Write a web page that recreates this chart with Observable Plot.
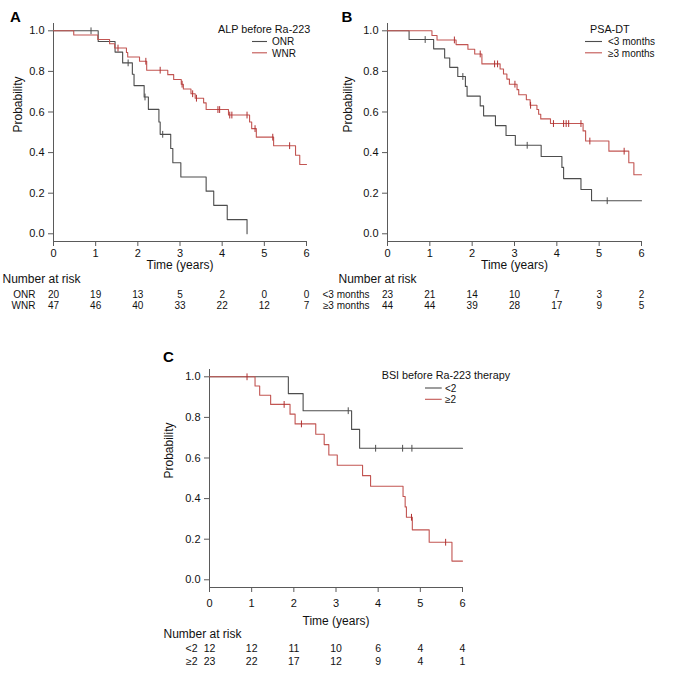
<!DOCTYPE html>
<html><head><meta charset="utf-8">
<script src="https://cdn.jsdelivr.net/npm/d3@7"></script>
<script src="https://cdn.jsdelivr.net/npm/@observablehq/plot@0.6"></script>
<style>
html,body{margin:0;padding:0;background:#fff;}
#wrap{position:relative;width:677px;height:674px;overflow:hidden;font-family:"Liberation Sans",Arial,sans-serif;}
</style></head><body><div id="wrap"></div>
<script>
// ---------- shared ticks ----------
const timeTicks = [0, 1, 2, 3, 4, 5, 6];
const probTicks = [0, 0.2, 0.4, 0.6, 0.8, 1.0];

// ---------- Panel A: ALP before Ra-223 ----------
const aTitle = "ALP before Ra-223";
const aGroups = ["ONR", "WNR"];
const aOnrTime = [0, 1.06, 1.46, 1.64, 1.87, 1.91, 2.15, 2.25, 2.50, 2.53, 2.78, 2.83, 3.02, 3.62, 3.80, 4.12, 4.59];
const aOnrSurv = [1.0, 0.947, 0.895, 0.842, 0.786, 0.730, 0.674, 0.613, 0.551, 0.490, 0.420, 0.350, 0.280, 0.210, 0.140, 0.070, 0.0];
const aOnrCensor = [0.89, 1.77, 2.17, 2.59];
const aOnrEnd = 4.59;
const aWnrTime = [0, 0.48, 1.05, 1.33, 1.45, 1.73, 1.76, 2.04, 2.21, 2.71, 2.85, 3.03, 3.08, 3.26, 3.36, 3.56, 3.62, 4.15, 4.65, 4.70, 4.81, 5.22, 5.74, 5.84];
const aWnrSurv = [1.0, 0.979, 0.957, 0.936, 0.915, 0.893, 0.871, 0.850, 0.806, 0.784, 0.760, 0.737, 0.713, 0.690, 0.668, 0.645, 0.612, 0.585, 0.551, 0.518, 0.476, 0.434, 0.387, 0.341];
const aWnrCensor = [1.53, 2.19, 2.53, 3.05, 3.30, 3.39, 3.90, 3.94, 4.18, 4.23, 4.59, 4.78, 5.20, 5.60];
const aWnrEnd = 6.0;
const aRiskOnr = [20, 19, 13, 5, 2, 0, 0];
const aRiskWnr = [47, 46, 40, 33, 22, 12, 7];

// ---------- Panel B: PSA-DT ----------
const bTitle = "PSA-DT";
const bGroups = ["<3 months", "\u22653 months"];
const bLowTime = [0, 0.51, 1.09, 1.35, 1.47, 1.66, 1.84, 1.88, 2.19, 2.27, 2.55, 2.80, 3.02, 3.63, 4.12, 4.16, 4.57, 4.82];
const bLowSurv = [1.0, 0.957, 0.911, 0.866, 0.820, 0.775, 0.726, 0.678, 0.630, 0.581, 0.533, 0.484, 0.436, 0.381, 0.327, 0.272, 0.218, 0.163];
const bLowCensor = [0.89, 1.78, 3.30, 5.19];
const bLowEnd = 6.0;
const bHighTime = [0, 1.05, 1.17, 1.62, 1.90, 2.06, 2.23, 2.66, 2.74, 2.82, 2.88, 3.06, 3.10, 3.28, 3.37, 3.53, 3.57, 3.62, 3.85, 4.62, 4.68, 5.23, 5.70, 5.82];
const bHighSurv = [1.0, 0.977, 0.955, 0.932, 0.909, 0.886, 0.837, 0.812, 0.787, 0.762, 0.737, 0.710, 0.685, 0.660, 0.633, 0.612, 0.589, 0.566, 0.543, 0.507, 0.457, 0.407, 0.350, 0.291];
const bHighCensor = [1.58, 2.19, 2.53, 2.60, 3.01, 3.38, 3.92, 4.16, 4.22, 4.28, 4.57, 4.78, 5.59];
const bHighEnd = 6.0;
const bRiskLow = [23, 21, 14, 10, 7, 3, 2];
const bRiskHigh = [44, 44, 39, 28, 17, 9, 5];

// ---------- Panel C: BSI before Ra-223 therapy ----------
const cTitle = "BSI before Ra-223 therapy";
const cGroups = ["<2", "\u22652"];
const cLowTime = [0, 1.87, 2.22, 3.37, 3.56];
const cLowSurv = [1.0, 0.917, 0.833, 0.741, 0.648];
const cLowCensor = [3.29, 3.94, 4.58, 4.80];
const cLowEnd = 6.0;
const cHighTime = [0, 1.08, 1.19, 1.45, 1.91, 2.03, 2.52, 2.72, 2.83, 3.03, 3.63, 3.82, 4.59, 4.64, 4.67, 4.81, 5.21, 5.75];
const cHighSurv = [1.0, 0.955, 0.909, 0.864, 0.816, 0.768, 0.717, 0.666, 0.615, 0.564, 0.513, 0.461, 0.410, 0.359, 0.308, 0.246, 0.185, 0.092];
const cHighCensor = [0.89, 1.77, 2.18, 4.79, 5.60];
const cHighEnd = 6.0;
const cRiskLow = [12, 12, 11, 10, 6, 4, 4];
const cRiskHigh = [23, 22, 17, 12, 9, 4, 1];

// ---------- styling ----------
const FONT = '"Liberation Sans", Arial, Helvetica, sans-serif';
const GREY = "#4d4d4d";
const RED = "#c25552";
const RED_TICK = "#b03030";
const AXIS = "#5a5a5a";
const yDomain = [-0.038, 1.036];

const vbar = {draw(ctx, size) { const h = Math.sqrt(size / Math.PI); ctx.moveTo(0, -h); ctx.lineTo(0, h); }};

function steps(time, surv, end) {
  const pts = time.map((t, i) => ({t, s: surv[i]}));
  pts.push({t: end, s: surv[surv.length - 1]});
  return pts;
}
function survAt(time, surv, t) {
  let s = surv[0];
  for (let i = 0; i < time.length; i++) if (time[i] <= t) s = surv[i];
  return s;
}

function panel(cfg) {
  const marks = [
    Plot.ruleX([0], {stroke: AXIS, strokeWidth: 1}),
    Plot.ruleY([yDomain[0]], {stroke: AXIS, strokeWidth: 1}),
    Plot.axisY(probTicks, {tickSize: 5, tickPadding: 4, tickFormat: d3.format(".1f"), fontSize: 11, stroke: AXIS, fill: "#111", label: null}),
    Plot.axisX(timeTicks, {tickSize: 5, tickPadding: cfg.xPad, fontSize: 11, stroke: AXIS, fill: "#111", label: null}),
    Plot.text(["Probability"], {frameAnchor: "left", dx: cfg.probDx, rotate: -90, fontSize: 12, fill: "#111"}),
    Plot.text(["Time (years)"], {frameAnchor: "bottom", dy: cfg.timeDy, fontSize: 12, fill: "#111"}),
    Plot.text(["Number at risk"], {frameAnchor: "bottom-left", dx: cfg.numDx, dy: cfg.numDy, textAnchor: "start", fontSize: 12, fill: "#111"})
  ];
  cfg.series.forEach((sr, i) => {
    marks.push(Plot.line(steps(sr.time, sr.surv, sr.end), {x: "t", y: "s", curve: "step-after", stroke: sr.color, strokeWidth: 1.1}));
    marks.push(Plot.dot(sr.censor, {x: d => d, y: d => survAt(sr.time, sr.surv, d), symbol: vbar, r: 3.4, stroke: sr.tick, strokeWidth: 1, fill: "none"}));
    marks.push(Plot.text(cfg.risk[i], {x: timeTicks, text: d => String(d), frameAnchor: "bottom", dy: cfg.rows[i], fontSize: cfg.rowFont, fill: "#111"}));
    marks.push(Plot.text([cfg.groups[i]], {frameAnchor: "bottom-left", dx: cfg.labelDx, dy: cfg.rows[i], textAnchor: "end", fontSize: cfg.rowFont, fill: "#111"}));
  });
  const svg = Plot.plot({
    width: cfg.width, height: cfg.height,
    marginLeft: cfg.mL, marginRight: cfg.mR, marginTop: cfg.mT, marginBottom: cfg.mB,
    x: {domain: [0, 6]}, y: {domain: yDomain},
    style: {fontFamily: FONT, fontSize: "11px", color: "#111", background: "transparent", overflow: "visible"},
    marks
  });
  svg.style.position = "absolute";
  svg.style.left = cfg.left + "px";
  svg.style.top = cfg.top + "px";
  document.getElementById("wrap").appendChild(svg);
}

panel({
  left: 0, top: 0, width: 330, height: 320, mL: 53, mR: 24, mT: 23, mB: 79,
  xPad: 3, probDx: -35, timeDy: 27.5, numDy: 41, numDx: -51, rows: [56, 67.5], rowFont: 10, labelDx: -18,
  groups: aGroups, risk: [aRiskOnr, aRiskWnr],
  series: [
    {time: aOnrTime, surv: aOnrSurv, end: aOnrEnd, censor: aOnrCensor, color: GREY, tick: GREY},
    {time: aWnrTime, surv: aWnrSurv, end: aWnrEnd, censor: aWnrCensor, color: RED, tick: RED_TICK}
  ]
});
panel({
  left: 330, top: 0, width: 347, height: 320, mL: 57, mR: 36, mT: 23, mB: 79,
  xPad: 3, probDx: -39, timeDy: 27.5, numDy: 41, numDx: -49, rows: [56, 67.5], rowFont: 10, labelDx: -18,
  groups: bGroups, risk: [bRiskLow, bRiskHigh],
  series: [
    {time: bLowTime, surv: bLowSurv, end: bLowEnd, censor: bLowCensor, color: GREY, tick: GREY},
    {time: bHighTime, surv: bHighSurv, end: bHighEnd, censor: bHighCensor, color: RED, tick: RED_TICK}
  ]
});
panel({
  left: 160, top: 330, width: 320, height: 344, mL: 49, mR: 18, mT: 39, mB: 87,
  xPad: 7, probDx: -40, timeDy: 37, numDy: 50.5, numDx: -46, rows: [64, 77], rowFont: 10.5, labelDx: -12,
  groups: cGroups, risk: [cRiskLow, cRiskHigh],
  series: [
    {time: cLowTime, surv: cLowSurv, end: cLowEnd, censor: cLowCensor, color: GREY, tick: GREY},
    {time: cHighTime, surv: cHighSurv, end: cHighEnd, censor: cHighCensor, color: RED, tick: RED_TICK}
  ]
});

// ---------- panel letters and legends (overlay) ----------
const ov = d3.create("svg").attr("width", 677).attr("height", 674)
  .style("position", "absolute").style("left", "0px").style("top", "0px")
  .style("font-family", FONT).style("pointer-events", "none");
[["A", 10, 21.5], ["B", 341.5, 21.7], ["C", 163, 361.7]].forEach(([t, x, y]) =>
  ov.append("text").attr("x", x).attr("y", y).attr("font-size", 15).attr("font-weight", "bold").attr("fill", "#000").text(t));

const LEG_STEP = 11.3;
function legend(title, groups, tx, ty, lx1, lx2, ly, textX, textY) {
  ov.append("text").attr("x", tx).attr("y", ty).attr("font-size", 10.8).attr("fill", "#111").text(title);
  [GREY, RED].forEach((c, i) => {
    ov.append("line").attr("x1", lx1).attr("x2", lx2).attr("y1", ly + LEG_STEP * i).attr("y2", ly + LEG_STEP * i).attr("stroke", c).attr("stroke-width", 1.1);
    ov.append("text").attr("x", textX).attr("y", textY + LEG_STEP * i).attr("font-size", 10).attr("fill", "#111").text(groups[i]);
  });
}
legend(aTitle, aGroups, 218, 32.7, 252, 267, 41.5, 272, 45.3);
legend(bTitle, bGroups, 590, 32.7, 585, 602, 41.5, 608, 45.3);
legend(cTitle, cGroups, 381.7, 379.3, 425, 441.7, 388, 445, 391.8);
document.getElementById("wrap").appendChild(ov.node());
</script></body></html>
